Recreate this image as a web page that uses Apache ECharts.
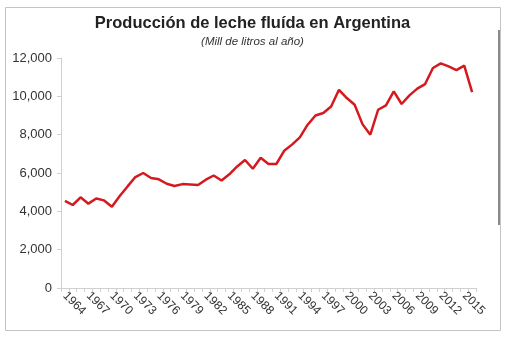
<!DOCTYPE html>
<html>
<head>
<meta charset="utf-8">
<script src="https://cdn.jsdelivr.net/npm/echarts@6/dist/echarts.min.js"></script>
<style>
html,body{margin:0;padding:0;background:#fff;}
#chart{width:505px;height:337px;}
</style>
</head>
<body>
<div id="chart"></div>
<script>
var titleText = 'Producción de leche fluída en Argentina';
var subtitleText = '(Mill de litros al año)';
var years = [];
for (var y = 1964; y <= 2016; y++) years.push(String(y));
var production = [
  4550, 4330, 4730, 4400, 4670, 4570, 4240, 4800, 5300, 5790,
  6000, 5740, 5670, 5440, 5320, 5420, 5400, 5370, 5650, 5870,
  5610, 5930, 6340, 6680, 6220, 6800, 6470, 6470, 7160, 7480,
  7860, 8520, 9000, 9130, 9470, 10340, 9910, 9560, 8550, 8000,
  9300, 9530, 10260, 9600, 10050, 10400, 10640, 11480, 11720, 11560,
  11370, 11600, 10220
];
var yTicks = [0, 2000, 4000, 6000, 8000, 10000, 12000];

var chart = echarts.init(document.getElementById('chart'), null, {renderer: 'canvas'});
chart.setOption({
  animation: false,
  backgroundColor: '#ffffff',
  title: [{
    text: titleText,
    left: 'center',
    top: 10,
    textStyle: {fontFamily: 'Liberation Sans', fontSize: 16.5, fontWeight: 'bold', color: '#222'}
  }, {
    text: subtitleText,
    left: 'center',
    top: 31,
    textStyle: {fontFamily: 'Liberation Sans', fontSize: 11.5, fontStyle: 'italic', fontWeight: 'normal', color: '#333'}
  }],
  grid: {left: 61, right: 29, top: 58, bottom: 49},
  xAxis: {
    type: 'category',
    data: years,
    boundaryGap: true,
    axisLine: {lineStyle: {color: '#d0d0d0', width: 1}},
    axisTick: {show: true, interval: 0, length: 4, lineStyle: {color: '#d0d0d0'}},
    axisLabel: {
      interval: 2,
      rotate: -45,
      margin: 6,
      fontFamily: 'Liberation Sans',
      fontSize: 12,
      color: '#333'
    },
    splitLine: {show: false}
  },
  yAxis: {
    type: 'value',
    min: yTicks[0],
    max: yTicks[yTicks.length - 1],
    interval: 2000,
    axisLine: {show: true, lineStyle: {color: '#d0d0d0', width: 1}},
    axisTick: {show: true, length: 4, lineStyle: {color: '#d0d0d0'}},
    axisLabel: {
      margin: 9,
      fontFamily: 'Liberation Sans',
      fontSize: 13,
      color: '#333',
      formatter: function (v) { return v.toLocaleString('en-US'); }
    },
    splitLine: {show: false}
  },
  series: [{
    type: 'line',
    data: production,
    showSymbol: false,
    smooth: false,
    lineStyle: {color: '#d41a1f', width: 2.5},
    itemStyle: {color: '#d41a1f'}
  }],
  graphic: [{
    type: 'rect',
    shape: {x: 5.5, y: 7.5, width: 495, height: 323},
    style: {fill: 'none', stroke: '#c4c4c4', lineWidth: 1},
    silent: true
  }, {
    type: 'line',
    shape: {x1: 499, y1: 30, x2: 499, y2: 225},
    style: {stroke: '#8a8a8a', lineWidth: 2},
    silent: true
  }]
});
</script>
</body>
</html>
